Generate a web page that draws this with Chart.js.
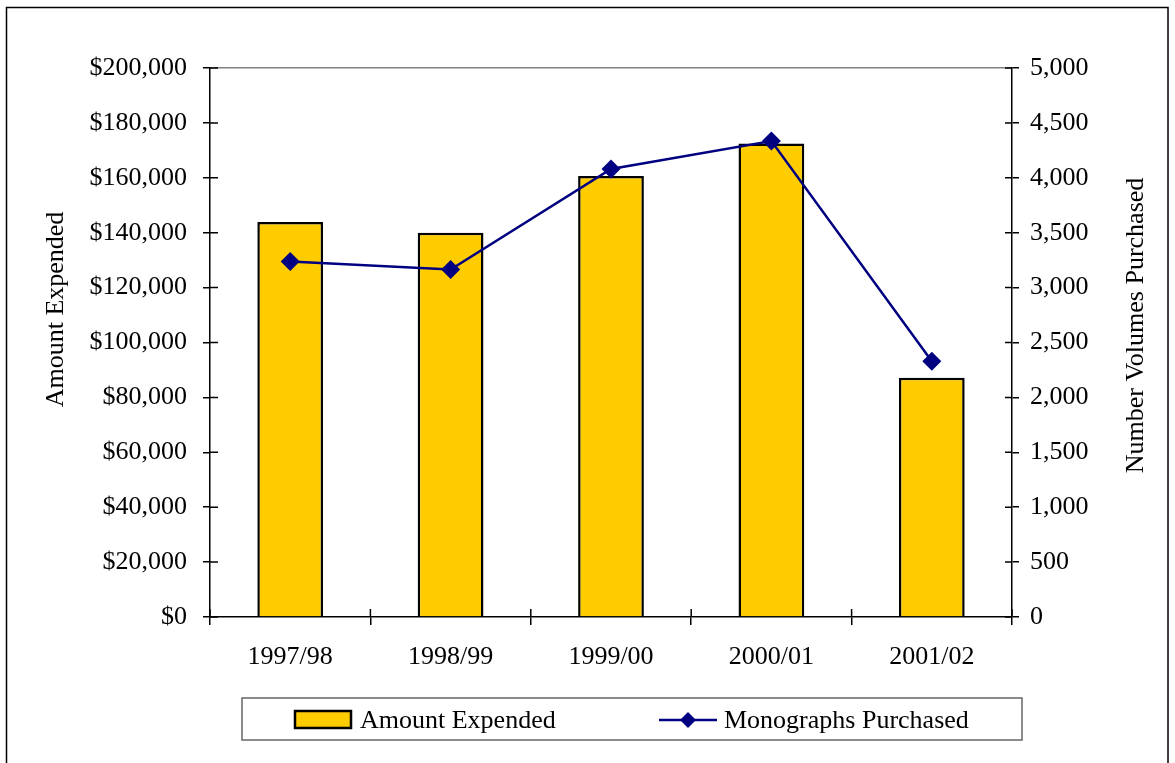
<!DOCTYPE html>
<html>
<head>
<meta charset="utf-8">
<script src="https://cdn.jsdelivr.net/npm/chart.js@4/dist/chart.umd.min.js"></script>
<style>
  body { margin: 0; background: #fff; }
  #wrap { width: 1175px; height: 763px; }
</style>
</head>
<body>
<div id="wrap"><canvas id="chart" width="1175" height="763"></canvas></div>
<script>
// DATA
const years = ["1997/98", "1998/99", "1999/00", "2000/01", "2001/02"];
const amountExpended = [143900, 140000, 160700, 172500, 87200];
const monographsPurchased = [3237, 3164, 4080, 4335, 2329];

const FONT = "'Liberation Serif', 'Times New Roman', serif";
Chart.defaults.font.family = FONT;
Chart.defaults.font.size = 26;
Chart.defaults.color = "#000";

// extra drawing: frame, axis titles, inner tick halves, legend
const decorations = {
    id: "decorations",
    beforeDraw(chart) {
        const ctx = chart.ctx;
        ctx.save();
        ctx.fillStyle = "#fff";
        ctx.fillRect(0, 0, chart.width, chart.height);
        ctx.strokeStyle = "#000";
        ctx.lineWidth = 1.5;
        ctx.strokeRect(6.5, 7.5, 1161.5, 800);
        ctx.restore();
    },
    afterDraw(chart) {
        const ctx = chart.ctx;
        const area = chart.chartArea;
        const sx = chart.scales.x, sy = chart.scales.y, sy1 = chart.scales.y1;
        ctx.save();

        // tick marks crossing the axes
        ctx.strokeStyle = "#000";
        ctx.lineWidth = 1.5;
        ctx.beginPath();
        sy.ticks.forEach(t => {
            const p = sy.getPixelForValue(t.value);
            ctx.moveTo(area.left, p); ctx.lineTo(area.left + 8, p);
        });
        sy1.ticks.forEach(t => {
            const p = sy1.getPixelForValue(t.value);
            ctx.moveTo(area.right, p); ctx.lineTo(area.right - 7, p);
        });
        for (let i = 0; i <= years.length; i++) {
            const p = sx.getPixelForValue(i - 0.5);
            ctx.moveTo(p, area.bottom); ctx.lineTo(p, area.bottom - 8);
        }
        ctx.stroke();

        // axis titles
        ctx.fillStyle = "#000";
        ctx.font = "26px " + FONT;
        ctx.textAlign = "center";
        ctx.textBaseline = "alphabetic";
        ctx.save();
        ctx.translate(63, 309.5);
        ctx.rotate(-Math.PI / 2);
        ctx.fillText("Amount Expended", 0, 0);
        ctx.restore();
        ctx.save();
        ctx.translate(1143, 325.5);
        ctx.rotate(-Math.PI / 2);
        ctx.fillText("Number Volumes Purchased", 0, 0);
        ctx.restore();

        // legend
        const bar = chart.data.datasets[0], line = chart.data.datasets[1];
        ctx.strokeStyle = "#666";
        ctx.lineWidth = 1.5;
        ctx.strokeRect(242, 698, 780, 42);

        ctx.fillStyle = bar.backgroundColor;
        ctx.fillRect(295, 711, 56, 17);
        ctx.strokeStyle = "#000";
        ctx.lineWidth = 2.5;
        ctx.strokeRect(295, 711, 56, 17);

        ctx.strokeStyle = line.borderColor;
        ctx.lineWidth = 2.5;
        ctx.beginPath();
        ctx.moveTo(659, 720); ctx.lineTo(717, 720);
        ctx.stroke();
        ctx.fillStyle = line.borderColor;
        ctx.beginPath();
        ctx.moveTo(688, 712); ctx.lineTo(696, 720); ctx.lineTo(688, 728); ctx.lineTo(680, 720);
        ctx.closePath();
        ctx.fill();

        ctx.fillStyle = "#000";
        ctx.textAlign = "left";
        ctx.fillText(bar.label, 360, 728);
        ctx.fillText(line.label, 724, 728);
        ctx.restore();
    }
};

new Chart("chart", {
    type: "bar",
    data: {
        labels: years,
        datasets: [
            {
                label: "Amount Expended",
                data: amountExpended,
                yAxisID: "y",
                backgroundColor: "#FFCC00",
                borderColor: "#000",
                borderWidth: 2.5,
                barPercentage: 0.41,
                categoryPercentage: 1,
                order: 2
            },
            {
                type: "line",
                label: "Monographs Purchased",
                data: monographsPurchased,
                yAxisID: "y1",
                borderColor: "#000080",
                borderWidth: 2.5,
                pointStyle: "rectRot",
                pointRadius: 9.5,
                pointBackgroundColor: "#000080",
                pointBorderWidth: 0,
                tension: 0,
                order: 1
            }
        ]
    },
    options: {
        responsive: false,
        animation: false,
        layout: { padding: { top: 68, left: 0, right: 0, bottom: 0 } },
        plugins: {
            legend: { display: false },
            tooltip: { enabled: false }
        },
        scales: {
            x: {
                grid: { drawOnChartArea: false, tickLength: 8, color: "#000", lineWidth: 1.5, offset: true },
                border: { color: "#000", width: 1.5 },
                ticks: { padding: 17, color: "#000" },
                afterFit(scale) { scale.height = 146; }
            },
            y: {
                position: "left",
                min: 0,
                max: 200000,
                ticks: {
                    stepSize: 20000,
                    padding: 16,
                    color: "#000",
                    callback: v => "$" + v.toLocaleString("en-US")
                },
                grid: {
                    tickLength: 7,
                    tickColor: "#000",
                    color: c => (c.tick && c.tick.value === 200000) ? "#808080" : "rgba(0,0,0,0)",
                    lineWidth: 1.5
                },
                border: { color: "#000", width: 1.5 },
                afterFit(scale) { scale.width = 210; }
            },
            y1: {
                position: "right",
                min: 0,
                max: 5000,
                ticks: {
                    stepSize: 500,
                    padding: 11,
                    color: "#000",
                    callback: v => v.toLocaleString("en-US")
                },
                grid: { drawOnChartArea: false, tickLength: 7, color: "#000", lineWidth: 1.5 },
                border: { color: "#000", width: 1.5 },
                afterFit(scale) { scale.width = 163; }
            }
        }
    },
    plugins: [decorations]
});
</script>
</body>
</html>
